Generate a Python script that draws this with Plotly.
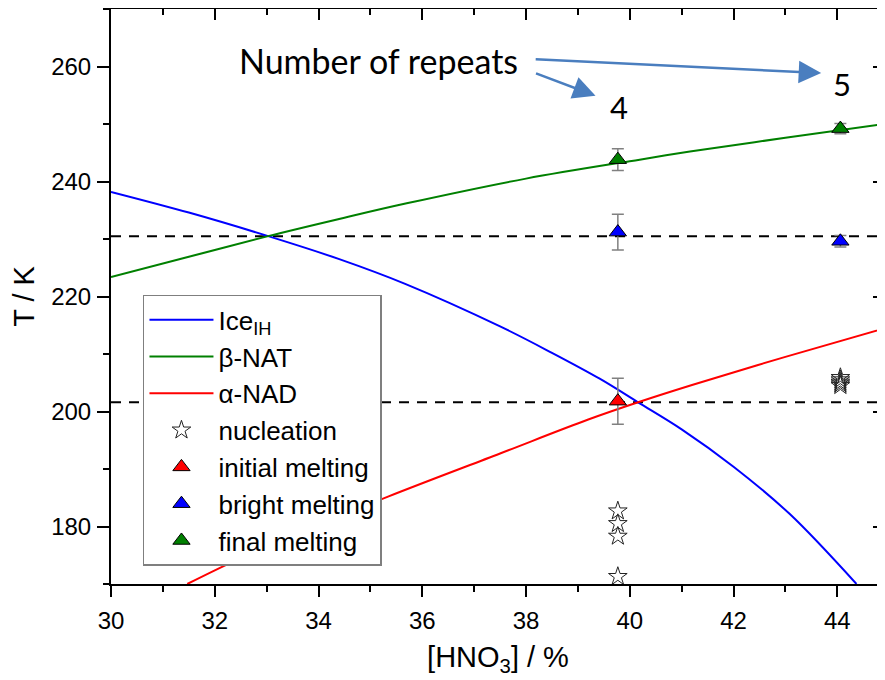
import plotly.graph_objects as go

# ---- data ----
ice_x = [30, 31.5, 33.03, 34.4, 35.67, 37.5, 38.5, 39.42, 40.16, 41.0, 42.0, 43.08, 44.37]
ice_T = [238.2, 234.6, 230.5, 226.5, 222.2, 214.8, 210.2, 205.7, 201.6, 196.9, 190.4, 182.2, 170.0]

nat_x = [30, 31.5, 33.03, 34.5, 35.7, 38.0, 40.19, 41.16, 43.0, 44.92]
nat_T = [223.4, 226.9, 230.5, 233.7, 236.2, 240.5, 243.8, 245.2, 247.6, 250.0]

nad_x = [31.47, 32.5, 33.9, 35.34, 37.5, 39.2, 40.16, 41.2, 43.0, 44.92]
nad_T = [170.0, 174.5, 179.9, 185.2, 192.7, 198.6, 201.6, 204.6, 209.5, 214.5]

nuc_x = [39.77, 39.77, 39.77, 39.77, 44.06, 44.06, 44.06, 44.06, 44.06]
nuc_T = [182.7, 180.5, 178.3, 171.3, 205.9, 205.5, 205.1, 204.8, 204.5]

init_x = [39.77]
init_T = [201.8]
init_err = [4.0]

bright_x = [39.77, 44.06]
bright_T = [231.2, 229.6]
bright_err = [3.1, 1.0]

final_x = [39.77, 44.06]
final_T = [243.8, 249.2]
final_err = [1.9, 0.9]

dashed_levels = [230.5, 201.6]

repeat_labels = ["4", "5"]
repeat_x = [39.79, 44.09]
repeat_T = [252.9, 257.0]

x_ticks = [30, 32, 34, 36, 38, 40, 42, 44]
y_ticks = [180, 200, 220, 240, 260]
x_range = [30, 44.92]
y_range = [170, 270]

FONT = "Liberation Sans, Arial, sans-serif"
CAL = "Lato, Open Sans, sans-serif"
ARROW = "#4a7ebf"

fig = go.Figure()

fig.add_trace(go.Scatter(x=ice_x, y=ice_T, mode="lines", name="Ice<sub>IH</sub>",
                         line=dict(color="#0000ff", width=2, shape="spline", smoothing=1.0)))
fig.add_trace(go.Scatter(x=nat_x, y=nat_T, mode="lines", name="β-NAT",
                         line=dict(color="#008000", width=2, shape="spline")))
fig.add_trace(go.Scatter(x=nad_x, y=nad_T, mode="lines", name="α-NAD",
                         line=dict(color="#ff0000", width=2, shape="spline")))

fig.add_trace(go.Scatter(x=nuc_x, y=nuc_T, mode="markers", name="nucleation",
                         marker=dict(symbol="star-open", size=14, color="#222222",
                                     line=dict(width=1, color="#222222"))))

err_style = dict(type="data", color="#808080", thickness=1.5, width=6)

fig.add_trace(go.Scatter(x=init_x, y=init_T, mode="markers", name="initial melting",
                         error_y=dict(array=init_err, **err_style),
                         marker=dict(symbol="triangle-up", size=15, color="#ff0000",
                                     line=dict(width=1, color="#000000"))))
fig.add_trace(go.Scatter(x=bright_x, y=bright_T, mode="markers", name="bright melting",
                         error_y=dict(array=bright_err, **err_style),
                         marker=dict(symbol="triangle-up", size=15, color="#0000ff",
                                     line=dict(width=1, color="#000000"))))
fig.add_trace(go.Scatter(x=final_x, y=final_T, mode="markers", name="final melting",
                         error_y=dict(array=final_err, **err_style),
                         marker=dict(symbol="triangle-up", size=15, color="#008000",
                                     line=dict(width=1, color="#000000"))))

# dummy trace for the mirrored (top/right) axes
fig.add_trace(go.Scatter(x=[None], y=[None], xaxis="x2", yaxis="y2",
                         showlegend=False, hoverinfo="skip"))

for lv in dashed_levels:
    fig.add_shape(type="line", xref="paper", x0=0, x1=1, yref="y", y0=lv, y1=lv,
                  line=dict(color="black", width=2, dash="10px,8px"), layer="below")

# annotations: number of repeats
for lab, xx, yy in zip(repeat_labels, repeat_x, repeat_T):
    fig.add_annotation(x=xx, y=yy, text=lab, showarrow=False,
                       font=dict(family=CAL, size=31, color="black"))

fig.add_annotation(x=35.16, y=261.0, text="Number of repeats", showarrow=False,
                   font=dict(family=CAL, size=34, color="black"))
fig.add_annotation(x=43.69, y=258.85, ax=-287, ay=-14, text="", showarrow=True,
                   arrowhead=2, arrowsize=1.8, arrowwidth=2.5, arrowcolor=ARROW,
                   standoff=0)
fig.add_annotation(x=39.34, y=254.9, ax=-61, ay=-23, text="", showarrow=True,
                   arrowhead=2, arrowsize=1.8, arrowwidth=2.5, arrowcolor=ARROW,
                   standoff=0)

# the page body adds an 8px offset; size the figure so it fits the window exactly
fig.update_layout(
    width=877, height=672,
    margin=dict(l=103, r=0, t=1, b=96, autoexpand=False),
    plot_bgcolor="white", paper_bgcolor="white",
    font=dict(family=FONT, color="black"),
    showlegend=True,
    legend=dict(x=0.0413, y=0.503, xanchor="left", yanchor="top",
                bgcolor="white", bordercolor="#7f7f7f", borderwidth=1.5,
                font=dict(family=FONT, size=26), itemwidth=64,
                tracegroupgap=0),
    xaxis=dict(range=x_range, tickvals=x_ticks, ticks="outside", ticklen=11, tickwidth=2,
               tickcolor="black", showline=True, linewidth=2, linecolor="black",
               showgrid=False, zeroline=False, tickfont=dict(size=24),
               ticklabelstandoff=3,
               minor=dict(dtick=1, tick0=30, ticks="outside", ticklen=6, tickwidth=2,
                          tickcolor="black", showgrid=False),
               title=dict(text="[HNO<sub>3</sub>] / %", font=dict(size=29), standoff=14)),
    yaxis=dict(range=y_range, tickvals=y_ticks, ticks="outside", ticklen=12, tickwidth=2,
               tickcolor="black", showline=True, linewidth=2, linecolor="black",
               showgrid=False, zeroline=False, tickfont=dict(size=24),
               ticklabelstandoff=1,
               minor=dict(dtick=10, tick0=170, ticks="outside", ticklen=6, tickwidth=2,
                          tickcolor="black", showgrid=False),
               title=dict(text="T / K", font=dict(size=29), standoff=12)),
    xaxis2=dict(overlaying="x", side="top", range=x_range, tickvals=x_ticks,
                ticks="inside", ticklen=11, tickwidth=2, tickcolor="black",
                showline=True, linewidth=2, linecolor="black", showticklabels=False,
                showgrid=False, zeroline=False,
                minor=dict(dtick=1, tick0=30, ticks="inside", ticklen=6, tickwidth=2,
                           tickcolor="black", showgrid=False)),
    yaxis2=dict(overlaying="y", side="right", range=y_range, tickvals=y_ticks,
                ticks="inside", ticklen=12, tickwidth=2, tickcolor="black",
                showline=False, showticklabels=False, showgrid=False, zeroline=False,
                minor=dict(dtick=10, tick0=170, ticks="inside", ticklen=6, tickwidth=2,
                           tickcolor="black", showgrid=False)),
)

fig.write_html("out.html")
